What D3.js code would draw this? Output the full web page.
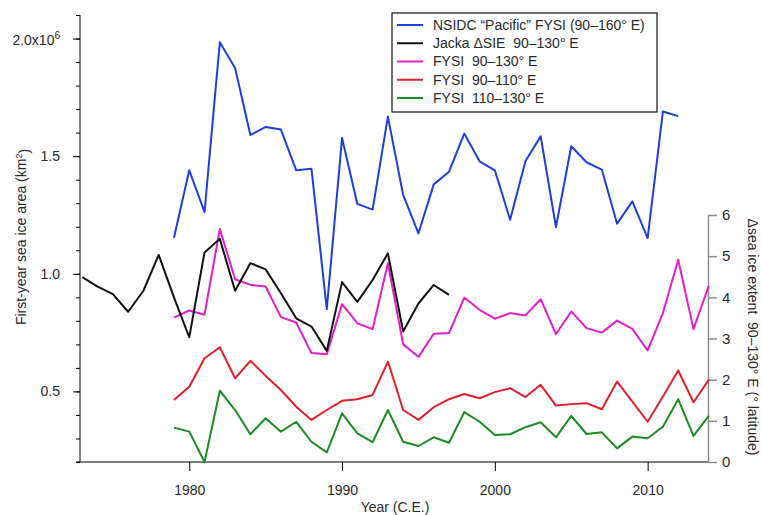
<!DOCTYPE html>
<html>
<head>
<meta charset="utf-8">
<script src="https://cdn.jsdelivr.net/npm/d3@7"></script>
<style>
  body { margin: 0; background: #fff; }
  text { font-family: "Liberation Sans", Arial, sans-serif; fill: #2a2a2a; }
  .legendText { font-size: 14px; }
</style>
</head>
<body>
<div id="chart"></div>
<script>
// Years for each record
var yearsNsidc = d3.range(1979, 2013);
var yearsJacka = d3.range(1973, 1998);
var yearsFysi = d3.range(1979, 2015);

// NSIDC "Pacific" FYSI (90-160 E), x10^6 km2
var nsidc = [1.153, 1.44, 1.262, 1.984, 1.875, 1.59, 1.624, 1.613, 1.44, 1.446,
  0.85, 1.577, 1.297, 1.273, 1.668, 1.335, 1.172, 1.38, 1.434, 1.596,
  1.478, 1.44, 1.23, 1.478, 1.584, 1.199, 1.542, 1.474, 1.443, 1.213,
  1.308, 1.152, 1.69, 1.67];

// Jacka delta SIE 90-130 E, degrees latitude (right axis)
var jacka = [4.49, 4.26, 4.08, 3.65, 4.16, 5.03, 4.0, 3.03, 5.09, 5.42,
  4.16, 4.83, 4.68, 4.1, 3.49, 3.29, 2.7, 4.37, 3.89, 4.42,
  5.07, 3.17, 3.85, 4.3, 4.06];

// FYSI 90-130 E
var fysi90130 = [0.814, 0.844, 0.826, 1.19, 0.977, 0.953, 0.946, 0.816, 0.793, 0.663,
  0.658, 0.871, 0.79, 0.765, 1.045, 0.70, 0.647, 0.745, 0.748, 0.899,
  0.847, 0.809, 0.833, 0.823, 0.892, 0.743, 0.84, 0.769, 0.75, 0.801,
  0.766, 0.674, 0.833, 1.06, 0.765, 0.949];

// FYSI 90-110 E
var fysi90110 = [0.464, 0.52, 0.641, 0.688, 0.556, 0.63, 0.566, 0.506, 0.435, 0.379,
  0.421, 0.46, 0.467, 0.485, 0.627, 0.421, 0.379, 0.433, 0.467, 0.489,
  0.471, 0.497, 0.514, 0.476, 0.528, 0.44, 0.446, 0.45, 0.424, 0.542,
  0.457, 0.371, 0.478, 0.589, 0.454, 0.549];

// FYSI 110-130 E
var fysi110130 = [0.346, 0.329, 0.20, 0.503, 0.421, 0.318, 0.386, 0.329, 0.371, 0.286,
  0.241, 0.407, 0.322, 0.284, 0.421, 0.286, 0.268, 0.305, 0.282, 0.412,
  0.371, 0.315, 0.318, 0.348, 0.369, 0.305, 0.396, 0.319, 0.326, 0.258,
  0.308, 0.301, 0.35, 0.467, 0.311, 0.396];

var xTicks = [1980, 1990, 2000, 2010];
var leftTicks = [0.5, 1.0, 1.5, 2.0];
var rightTicks = [0, 1, 2, 3, 4, 5, 6];
var legendLabels = ["NSIDC \u201cPacific\u201d FYSI (90\u2013160\u00b0 E)",
  "Jacka \u0394SIE  90\u2013130\u00b0 E",
  "FYSI  90\u2013130\u00b0 E",
  "FYSI  90\u2013110\u00b0 E",
  "FYSI  110\u2013130\u00b0 E"];

var svgWidth = 763;
var svgHeight = 515;

// plot box in pixels
var plotLeft = 80;
var plotRight = 708;
var plotTop = 15;
var plotBottom = 462;
var rightTop = 215;

var svg = d3.select("#chart")
  .append("svg")
  .attr("width", svgWidth)
  .attr("height", svgHeight);

var xScale = d3.scaleLinear()
  .domain([1972.85, 2013.95])
  .range([plotLeft, plotRight]);

var yLeft = d3.scaleLinear()
  .domain([0.2, 2.1])
  .range([plotBottom, plotTop]);

var yRight = d3.scaleLinear()
  .domain([0, 6])
  .range([plotBottom, rightTop]);

// left axis: minor ticks first, then labelled major ticks
svg.append("g")
  .attr("transform", "translate(" + plotLeft + ",0)")
  .call(d3.axisLeft(yLeft).tickValues(d3.range(2, 22).map(function(d) { return d / 10; }))
    .tickSize(4).tickFormat(""))
  .call(function(g) { g.select(".domain").remove(); });

var leftAxis = svg.append("g")
  .attr("transform", "translate(" + plotLeft + ",0)")
  .call(d3.axisLeft(yLeft).tickValues(leftTicks).tickSize(7).tickSizeOuter(0)
    .tickPadding(13).tickFormat(d3.format(".1f")));
leftAxis.selectAll("text").style("font-size", "14px");
leftAxis.select(".domain").attr("d", "M0," + plotTop + "V" + plotBottom);

// 2.0 carries the x10^6 multiplier
leftAxis.selectAll(".tick text")
  .filter(function(d) { return d === 2.0; })
  .text("2.0x10")
  .attr("dy", "0.45em")
  .append("tspan")
  .attr("dy", "-0.6em")
  .style("font-size", "10px")
  .text("6");

// bottom axis
var xAxis = svg.append("g")
  .attr("transform", "translate(0," + plotBottom + ")")
  .call(d3.axisBottom(xScale).tickValues(xTicks).tickSize(9).tickSizeOuter(0)
    .tickPadding(14).tickFormat(d3.format("d")));
xAxis.selectAll("text").style("font-size", "14px");
xAxis.select(".domain").attr("d", "M" + (plotLeft - 4) + ",0H" + plotRight);

// right axis in grey
var rightAxis = svg.append("g")
  .attr("transform", "translate(" + plotRight + ",0)")
  .call(d3.axisRight(yRight).tickValues(rightTicks).tickSize(9).tickSizeOuter(0)
    .tickPadding(5).tickFormat(d3.format("d")));
rightAxis.selectAll("text").style("font-size", "15px");
rightAxis.selectAll("line, path").attr("stroke", "#8c8c8c").attr("stroke-width", 1.5);

// axis titles
svg.append("text")
  .attr("transform", "translate(26,237)rotate(-90)")
  .attr("text-anchor", "middle")
  .style("font-size", "14px")
  .text("First-year sea ice area (km")
  .append("tspan")
  .attr("dy", "-0.5em")
  .style("font-size", "9px")
  .text("2")
  .select(function() { return this.parentNode; })
  .append("tspan")
  .attr("dy", "0.5em")
  .text(")");

svg.append("text")
  .attr("transform", "translate(748,337)rotate(90)")
  .attr("text-anchor", "middle")
  .style("font-size", "14px")
  .style("white-space", "pre")
  .text("\u0394sea ice extent  90\u2013130\u00b0 E (\u00b0 latitude)");

svg.append("text")
  .attr("x", 395)
  .attr("y", 512)
  .attr("text-anchor", "middle")
  .style("font-size", "14px")
  .text("Year (C.E.)");

// series lines
var series = [
  { years: yearsNsidc, values: nsidc, scale: yLeft, color: "#1f3fdc" },
  { years: yearsJacka, values: jacka, scale: yRight, color: "#111111" },
  { years: yearsFysi, values: fysi90130, scale: yLeft, color: "#e21fc8" },
  { years: yearsFysi, values: fysi90110, scale: yLeft, color: "#e0202c" },
  { years: yearsFysi, values: fysi110130, scale: yLeft, color: "#1e8a24" }
];

// draw green first so the upper lines sit on top, same as the figure
series.slice().reverse().forEach(function(s) {
  var line = d3.line()
    .x(function(d, i) { return xScale(s.years[i]); })
    .y(function(d) { return s.scale(d); });
  svg.append("path")
    .datum(s.values)
    .attr("fill", "none")
    .attr("stroke", s.color)
    .attr("stroke-width", 2)
    .attr("stroke-linejoin", "round")
    .attr("d", line);
});

// legend
var legend = svg.append("g")
  .attr("transform", "translate(392,13)");

legend.append("rect")
  .attr("width", 265)
  .attr("height", 99)
  .attr("fill", "#fff")
  .attr("stroke", "#111")
  .attr("stroke-width", 1.2);

var legendRow = d3.scaleLinear().domain([0, 4]).range([12, 85]);

series.forEach(function(s, i) {
  legend.append("line")
    .attr("x1", 5)
    .attr("x2", 31)
    .attr("y1", legendRow(i))
    .attr("y2", legendRow(i))
    .attr("stroke", s.color)
    .attr("stroke-width", 2);
  legend.append("text")
    .attr("class", "legendText")
    .attr("x", 41)
    .attr("y", legendRow(i))
    .attr("dy", "0.35em")
    .style("white-space", "pre")
    .text(legendLabels[i]);
});
</script>
</body>
</html>
